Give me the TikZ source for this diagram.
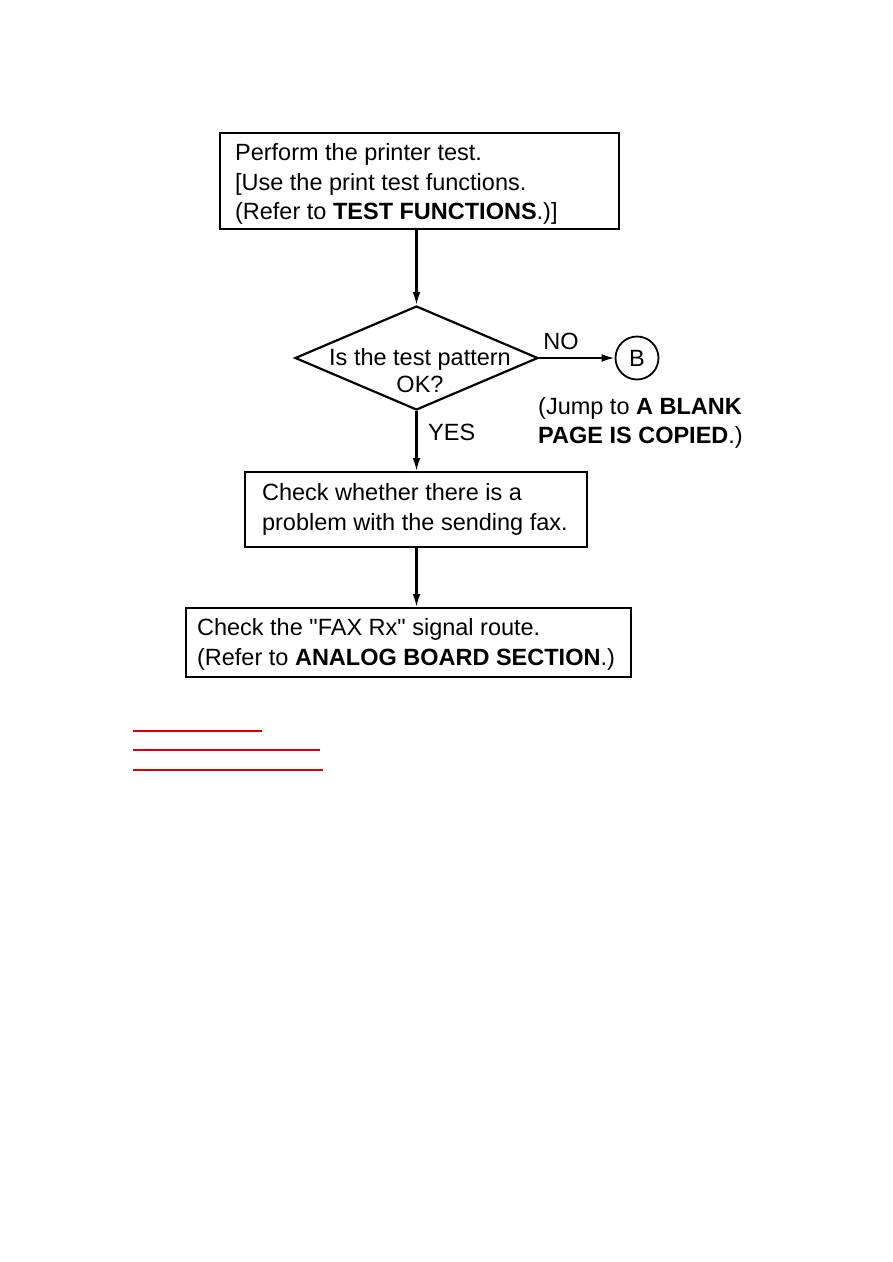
\documentclass[tikz,border=0pt]{standalone}
\usepackage{fontspec}
\setmainfont{Liberation Sans}
\newfontfamily\qfont{Liberation Sans}
\newcommand{\sq}{{\qfont"}}
\usetikzlibrary{shapes.geometric,arrows.meta}
\begin{document}
\begin{tikzpicture}[x=1pt,y=-1pt,
  every node/.style={font=\fontsize{23.5}{29.5}\selectfont},
  stepbox/.style={draw,line width=2.2pt,rectangle,inner sep=0pt},
  boxtext/.style={anchor=west,align=left,inner sep=0pt},
  flow/.style={line width=2.2pt,-{Latex[length=13pt,width=8pt]}},
  redline/.style={draw=red!85!black,line width=1.5pt}]
\useasboundingbox (0,0) rectangle (893,1262);
% Box 1
\node[stepbox,minimum width=399pt,minimum height=96pt] (b1) at (419.5,181) {};
\node[boxtext] (t1) at ([xshift=16pt,yshift=-3pt]b1.west)
 {Perform the printer test.\\{[}Use the print test functions.\\(Refer to \textbf{TEST FUNCTIONS}.)]};
% Diamond
\node[draw,line width=2.2pt,diamond,minimum width=243pt,minimum height=104pt,inner sep=0pt] (d) at (416.5,358) {};
\node[align=center,inner sep=0pt,font=\fontsize{23.5}{27}\selectfont] (dt) at (420,371) {Is the test pattern\\OK?};
% Circle B
\node[draw,line width=1.8pt,circle,minimum size=43pt,inner sep=0pt] (B) at (637,358) {B};
\node[inner sep=0pt] (no) at (561,341) {NO};
\node[align=left,anchor=west,inner sep=0pt] (jump) at (538,423)
 {(Jump to \textbf{A BLANK}\\\textbf{PAGE IS COPIED}.)};
% Box 2
\node[stepbox,minimum width=342pt,minimum height=75pt] (b2) at (416,509.5) {};
\node[boxtext] (t2) at ([xshift=18pt]b2.west)
 {Check whether there is a\\problem with the sending fax.};
% Box 3
\node[stepbox,minimum width=445pt,minimum height=69pt] (b3) at (408.5,642.5) {};
\node[boxtext] (t3) at ([xshift=12pt,yshift=-2pt]b3.west)
 {Check the \sq FAX Rx\sq{} signal route.\\(Refer to \textbf{ANALOG BOARD SECTION}.)};
\node[anchor=west,inner sep=0pt] (yes) at (428,432) {YES};
% Connectors
\draw[flow] (d.north |- b1.south) -- (d.north);
\draw[flow] (d.east) -- (B.west);
\draw[flow] (d.south) -- (d.south |- b2.north);
\draw[flow] (d.south |- b2.south) -- (d.south |- b3.north);
% Red lines
\coordinate (r1a) at (133,731); \coordinate (r1b) at (262,731);
\coordinate (r2a) at (133,750); \coordinate (r2b) at (320,750);
\coordinate (r3a) at (133,770); \coordinate (r3b) at (323,770);
\draw[redline] (r1a) -- (r1b);
\draw[redline] (r2a) -- (r2b);
\draw[redline] (r3a) -- (r3b);
\end{tikzpicture}
\end{document}
